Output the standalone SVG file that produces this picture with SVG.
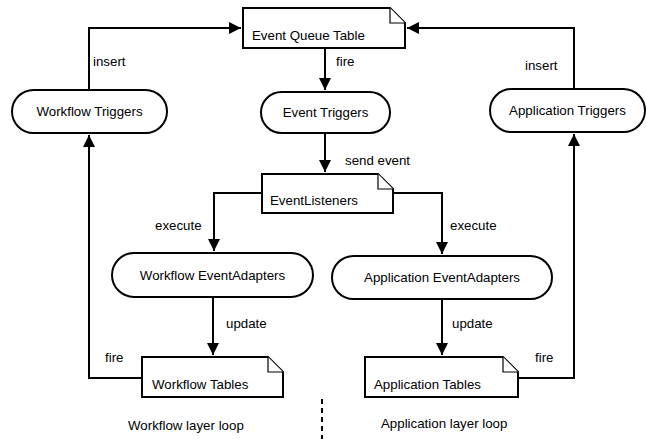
<svg xmlns="http://www.w3.org/2000/svg" width="646" height="439" viewBox="0 0 646 439">
<defs>
<marker id="arr" viewBox="0 0 10 10" refX="10" refY="5" markerWidth="12" markerHeight="12" markerUnits="userSpaceOnUse" orient="auto">
<path d="M0,0 L10,5 L0,10 z" fill="#000"/>
</marker>
<style>
.shape{fill:#fff;stroke:#000;stroke-width:2}
.fold{fill:#fff;stroke:#000;stroke-width:1.2}
.t{font-family:"Liberation Sans",Arial,sans-serif;font-size:13.3px;fill:#000}
.c{text-anchor:middle}
.edge{fill:none;stroke:#000;stroke-width:2}
</style>
</defs>
<rect width="646" height="439" fill="#fff"/>
<g id="connectors">
<path class="edge" d="M89,90 V28 H241" marker-end="url(#arr)"/>
<path class="edge" d="M574,89 V28 H407" marker-end="url(#arr)"/>
<path class="edge" d="M325,48 V90" marker-end="url(#arr)"/>
<path class="edge" d="M325,133 V172" marker-end="url(#arr)"/>
<path class="edge" d="M262,193 H214 V251" marker-end="url(#arr)"/>
<path class="edge" d="M393,193 H442 V254" marker-end="url(#arr)"/>
<path class="edge" d="M213,297 V355" marker-end="url(#arr)"/>
<path class="edge" d="M442,299 V355" marker-end="url(#arr)"/>
<path class="edge" d="M142,378 H89 V135" marker-end="url(#arr)"/>
<path class="edge" d="M518,378 H574 V134" marker-end="url(#arr)"/>
<line x1="322" y1="399" x2="322" y2="439" stroke="#000" stroke-width="2" stroke-dasharray="5,4"/>
<text class="t" x="93" y="66">insert</text>
<text class="t" x="525" y="70">insert</text>
<text class="t" x="336" y="66">fire</text>
<text class="t" x="345" y="165">send event</text>
<text class="t" x="155" y="230">execute</text>
<text class="t" x="450" y="230">execute</text>
<text class="t" x="226" y="328">update</text>
<text class="t" x="452" y="328">update</text>
<text class="t" x="105" y="362">fire</text>
<text class="t" x="535" y="362">fire</text>
</g>
<g id="event-queue-table">
<path class="shape" d="M243,8 H390 L405,23 V48 H243 Z"/>
<path class="fold" d="M390,8 V23 H405"/>
<text class="t" x="252" y="40">Event Queue Table</text>
</g>
<g id="workflow-triggers">
<rect class="shape" x="12" y="90" width="155" height="43" rx="21.5"/>
<text class="t c" x="89.5" y="116">Workflow Triggers</text>
</g>
<g id="event-triggers">
<rect class="shape" x="261" y="92" width="129" height="41" rx="20.5"/>
<text class="t c" x="325.5" y="117">Event Triggers</text>
</g>
<g id="application-triggers">
<rect class="shape" x="490" y="89" width="155" height="43" rx="21.5"/>
<text class="t c" x="567.5" y="115">Application Triggers</text>
</g>
<g id="event-listeners">
<path class="shape" d="M262,174 H378 L393,189 V213 H262 Z"/>
<path class="fold" d="M378,174 V189 H393"/>
<text class="t" x="270" y="205">EventListeners</text>
</g>
<g id="workflow-eventadapters">
<rect class="shape" x="112" y="253" width="201" height="44" rx="22"/>
<text class="t c" x="212.5" y="280">Workflow EventAdapters</text>
</g>
<g id="application-eventadapters">
<rect class="shape" x="332" y="256" width="220" height="43" rx="21.5"/>
<text class="t c" x="442" y="282">Application EventAdapters</text>
</g>
<g id="workflow-tables">
<path class="shape" d="M142,357 H268 L283,372 V397 H142 Z"/>
<path class="fold" d="M268,357 V372 H283"/>
<text class="t" x="152" y="389">Workflow Tables</text>
</g>
<g id="application-tables">
<path class="shape" d="M365,357 H503 L518,372 V397 H365 Z"/>
<path class="fold" d="M503,357 V372 H518"/>
<text class="t" x="374" y="389">Application Tables</text>
</g>
<g id="labels">
<text class="t" x="128" y="430">Workflow layer loop</text>
<text class="t" x="381" y="428">Application layer loop</text>
</g>
</svg>
